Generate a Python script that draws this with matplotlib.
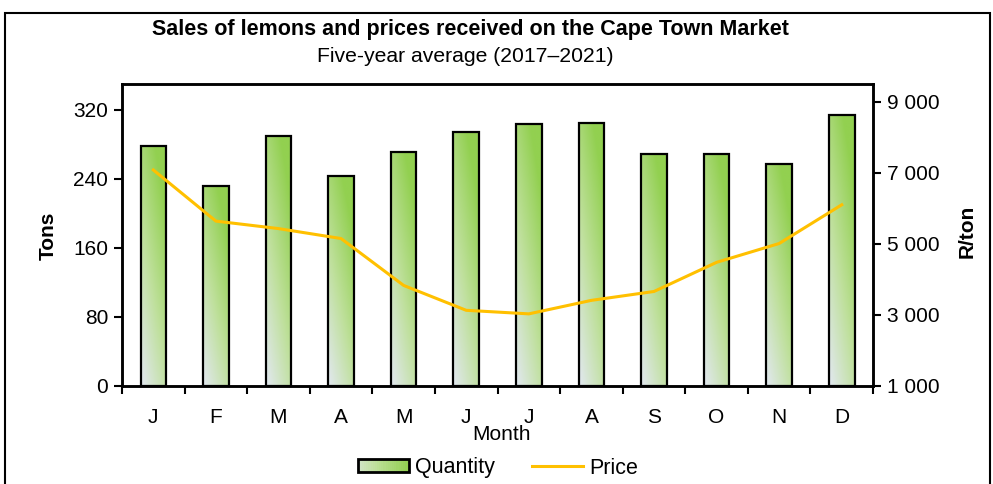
import numpy as np
import matplotlib.pyplot as plt
from matplotlib.patches import Rectangle, Patch
from matplotlib.lines import Line2D
from matplotlib.colors import LinearSegmentedColormap
from matplotlib.ticker import FuncFormatter
from matplotlib.legend_handler import HandlerBase

plt.rcParams['font.family'] = ['Liberation Sans', 'DejaVu Sans']

# data
months = ['J', 'F', 'M', 'A', 'M', 'J', 'J', 'A', 'S', 'O', 'N', 'D']
quantity = [278, 232, 290, 243, 271, 294, 304, 305, 269, 269, 257, 314]   # tons
price = [7080, 5640, 5430, 5150, 3830, 3130, 3030, 3410, 3660, 4480, 5010, 6100]  # R/ton
tons_ticks = [0, 80, 160, 240, 320]
price_ticks = [1000, 3000, 5000, 7000, 9000]

cmap = LinearSegmentedColormap.from_list('lemon', ['#e2e8f0', '#bfe09c', '#92d050'])


class GradientHandler(HandlerBase):
    # legend key: horizontal light-to-green gradient with a black outline
    def create_artists(self, legend, orig_handle, xdescent, ydescent,
                       width, height, fontsize, trans):
        n = 24
        arts = []
        for i in range(n):
            arts.append(Rectangle((-xdescent + i * width / n, -ydescent), width / n + 0.3, height,
                                  facecolor=cmap(0.25 + 0.75 * i / (n - 1)), edgecolor='none',
                                  transform=trans))
        arts.append(Rectangle((-xdescent, -ydescent), width, height, fill=False,
                              edgecolor='black', linewidth=2, transform=trans))
        return arts


fig = plt.figure(figsize=(9.93, 4.84), dpi=100)
ax = fig.add_axes([0.1229, 0.2025, 0.7563, 0.624])
x = np.arange(len(months))

# bars with a diagonal gradient fill
bars = ax.bar(x, quantity, width=0.41, facecolor='none', edgecolor='black',
              linewidth=1.6, zorder=3)
u, v = np.meshgrid(np.linspace(0, 1, 30), np.linspace(0, 1, 150))
grad = np.clip(0.45 * u + 0.75 * v, 0, 1)
for b in bars:
    x0, w, h = b.get_x(), b.get_width(), b.get_height()
    im = ax.imshow(grad, cmap=cmap, vmin=0, vmax=1, extent=[x0, x0 + w, 0, h],
                   origin='lower', aspect='auto', zorder=2, interpolation='bilinear')
    im.set_clip_path(b)

ax.set_xlim(-0.5, len(months) - 0.5)
ax.set_ylim(0, 350)
ax.set_xticks(np.arange(-0.5, len(months), 1))
ax.set_xticklabels([])
ax.set_xticks(x, minor=True)
ax.set_xticklabels(months, minor=True)
ax.tick_params(axis='x', which='major', direction='out', length=6, width=1.5)
ax.tick_params(axis='x', which='minor', length=0, labelsize=15, pad=16)
ax.set_yticks(tons_ticks)
ax.tick_params(axis='y', direction='out', length=6, width=1.5, labelsize=15, pad=4)

ax2 = ax.twinx()
ax2.plot(x, price, color='#FFC000', lw=2.2, zorder=4)
ax2.set_ylim(1000, 9500)
ax2.set_yticks(price_ticks)
ax2.yaxis.set_major_formatter(FuncFormatter(lambda val, _: f'{int(val):,}'.replace(',', ' ')))
ax2.tick_params(axis='y', direction='out', length=6, width=1.5, labelsize=15, pad=4)

for a in (ax, ax2):
    for s in a.spines.values():
        s.set_linewidth(1.8)
        s.set_color('black')

fig.text(470 / 993, 1 - 30 / 484, 'Sales of lemons and prices received on the Cape Town Market',
         ha='center', va='center', fontsize=15.5, fontweight='bold')
fig.text(465 / 993, 1 - 57 / 484, 'Five-year average (2017\u20132021)',
         ha='center', va='center', fontsize=15.2)
fig.text(48 / 993, 1 - 236 / 484, 'Tons', rotation=90, ha='center', va='center',
         fontsize=15, fontweight='bold')
fig.text(967 / 993, 1 - 231 / 484, 'R/ton', rotation=90, ha='center', va='center',
         fontsize=15, fontweight='bold')
fig.text(501 / 993, 1 - 434 / 484, 'Month', ha='center', va='center', fontsize=15)

handles = [Patch(facecolor='#b4dc8a', edgecolor='black'),
           Line2D([0], [0], color='#FFC000', lw=2.2)]
fig.legend(handles, ['Quantity', 'Price'], loc='center',
           bbox_to_anchor=(498 / 993, 1 - 468 / 484), ncol=2, frameon=False,
           fontsize=15.5, handlelength=2.4, handleheight=0.55, columnspacing=1.7,
           handletextpad=0.28, handler_map={Patch: GradientHandler()})

# outer chart border
fig.patches.append(Rectangle((5 / 993, -0.1), 985 / 993, 1.1 - 13 / 484,
                             transform=fig.transFigure, fill=False,
                             edgecolor='black', linewidth=1.5))

fig.savefig('out.png', dpi=100)
